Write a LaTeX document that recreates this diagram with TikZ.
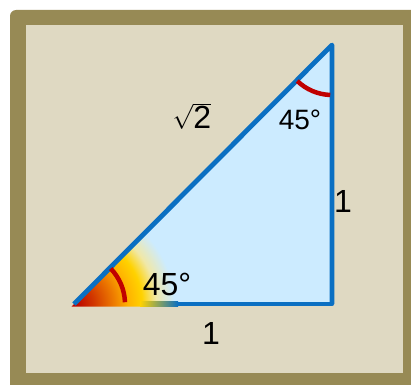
\documentclass[tikz,border=0pt]{standalone}
\usepackage{amsmath}
\usepackage{fontspec}
\setmainfont{Liberation Sans}
\usepackage{tikz}

\definecolor{frameolive}{HTML}{978A55}
\definecolor{panelbeige}{HTML}{DFD9C2}
\definecolor{edgeblue}{HTML}{0A6FC2}
\definecolor{faceblue}{HTML}{CCEBFF}
\definecolor{arcred}{HTML}{C00000}
\definecolor{glowa}{HTML}{B80000}
\definecolor{glowb}{HTML}{D23800}
\definecolor{glowc}{HTML}{EE7C00}
\definecolor{glowd}{HTML}{FFB200}
\definecolor{glowe}{HTML}{FFD200}
\definecolor{glowf}{HTML}{F0E8A8}
\pgfdeclareradialshading{cornerglow}{\pgfpointorigin}{color(0bp)=(glowa); color(5bp)=(glowb); color(10bp)=(glowc); color(13.5bp)=(glowd); color(17bp)=(glowe); color(20.5bp)=(glowf); color(25bp)=(faceblue); color(50bp)=(faceblue)}
\newcommand{\lblbig}{\fontsize{32}{36}\selectfont}
\newcommand{\lblsmall}{\fontsize{28}{32}\selectfont}
\tikzset{
  triedge/.style={edgeblue,line width=4.8pt},
  anglearc/.style={arcred,line width=4.5pt},
  lbl/.style={inner sep=0pt,font=\lblbig},
}

\begin{document}
\begin{tikzpicture}[x=1pt,y=1pt]
\useasboundingbox (0,0) rectangle (411,384);
\clip (0,0) rectangle (411,384);
% frame and panel
\fill[frameolive,rounded corners=6pt] (10,-20) rectangle (440,374);
\fill[panelbeige] (26,11) rectangle (403,359);
% triangle
\coordinate (A) at (74,80);
\coordinate (B) at (332,80);
\coordinate (C) at (332,339);
\fill[faceblue] (A) -- (B) -- (C) -- cycle;
\draw[triedge,line join=round] (A) -- (B) -- (C);
% glow at the lower corner
\begin{scope}
\clip (71.5,77.5) -- (250,77.5) -- (250,256) -- cycle;
\shade[shading=cornerglow] (A) circle[radius=100];
\end{scope}
\shade[left color=glowe,right color=edgeblue] (140,77.6) rectangle (178,82.4);
\draw[triedge,line join=round] (A) -- (C) -- (B);
% angle marks
\draw[anglearc] ([shift={(2:51)}]A) arc[start angle=2,end angle=44,radius=51];
\draw[anglearc] ([shift={(226:50)}]C) arc[start angle=226,end angle=268,radius=50];
% labels
\node[lbl] (hyp) at (192,268) {$\sqrt{\mbox{\lblbig 2}}$};
\node[lbl] (base) at (211,51) {1};
\node[lbl] (side) at (343,183) {1};
\node[lbl,font=\lblsmall] (topang) at (300,264) {45°};
\node[lbl] (lowang) at (167,100) {45°};
\end{tikzpicture}
\end{document}
